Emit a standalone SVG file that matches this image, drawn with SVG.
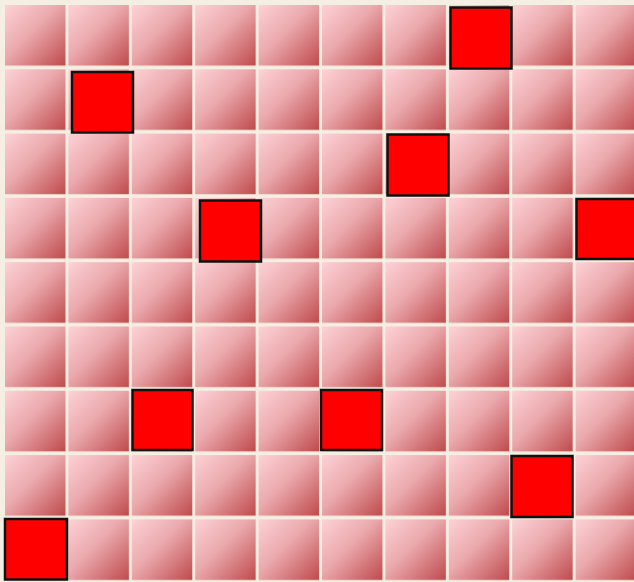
<svg xmlns="http://www.w3.org/2000/svg" width="634" height="582" viewBox="0 0 634 582">
<style>
.q{fill:#ff0000;stroke:#111;stroke-width:2.5}
</style>
<defs>
<linearGradient id="cg" x1="0" y1="0" x2="1" y2="1">
<stop offset="0" stop-color="#fdd2d6"/>
<stop offset="0.45" stop-color="#eaa8ac"/>
<stop offset="1" stop-color="#bf4a4c"/>
</linearGradient>
<pattern id="board" x="5" y="5" width="63.4" height="64.3" patternUnits="userSpaceOnUse">
<rect x="0" y="0" width="60.5" height="60.6" fill="url(#cg)"/>
</pattern>
</defs>
<rect x="0" y="0" width="634" height="582" fill="#f4efe2"/>
<rect x="5" y="5" width="629" height="577" fill="url(#board)"/>
<g id="r0c7"><rect class="q" x="450.5" y="7.5" width="61" height="61"/></g>
<g id="r1c1"><rect class="q" x="72" y="72" width="61" height="60.5"/></g>
<g id="r2c6"><rect class="q" x="387.5" y="134.5" width="61" height="61"/></g>
<g id="r3c3"><rect class="q" x="200" y="200.5" width="61" height="61"/></g>
<g id="r3c9"><rect class="q" x="576.5" y="199" width="61" height="60"/></g>
<g id="r6c2"><rect class="q" x="132.5" y="390" width="60" height="60"/></g>
<g id="r6c5"><rect class="q" x="321" y="390" width="61" height="60"/></g>
<g id="r7c8"><rect class="q" x="511.5" y="456" width="61" height="61"/></g>
<g id="r8c0"><rect class="q" x="5" y="519" width="62" height="60.5"/></g>
<g id="connectors"></g>
</svg>
